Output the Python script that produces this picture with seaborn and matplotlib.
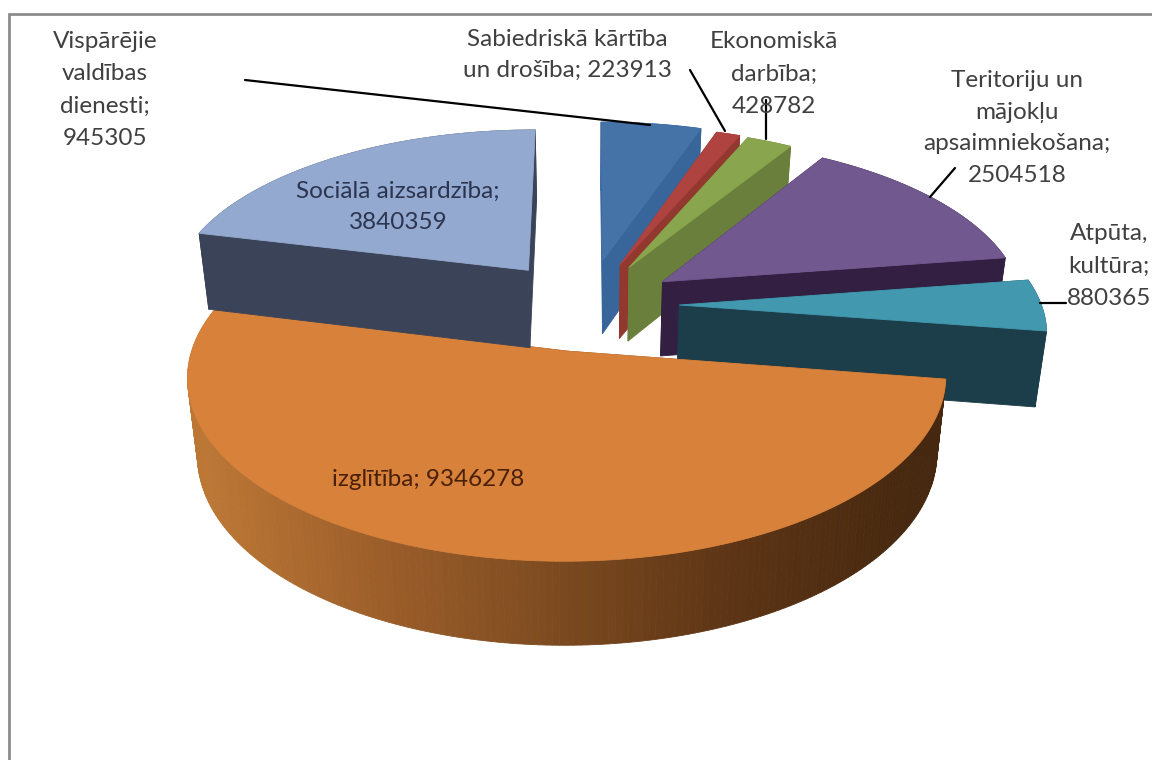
import numpy as np
import pandas as pd
import seaborn as sns
import matplotlib
matplotlib.use("Agg")
import matplotlib.pyplot as plt
from matplotlib.patches import Polygon

# ---- data ----
categories = ["Vispārējie valdības dienesti", "Sabiedriskā kārtība un drošība",
              "Ekonomiskā darbība", "Teritoriju un mājokļu apsaimniekošana",
              "Atpūta, kultūra", "izglītība", "Sociālā aizsardzība"]
values = [945305, 223913, 428782, 2504518, 880365, 9346278, 3840359]
label_texts = ["Vispārējie\nvaldības\ndienesti;\n945305",
               "Sabiedriskā kārtība\nun drošība; 223913",
               "Ekonomiskā\ndarbība;\n428782",
               "Teritoriju un\nmājokļu\napsaimniekošana;\n2504518",
               "Atpūta,\nkultūra;\n880365",
               "izglītība; 9346278",
               "Sociālā aizsardzība;\n3840359"]

# ---- style ----
top_colors = ["#4573A7", "#AE4340", "#89A54E", "#71588F", "#4198AF", "#D7813A", "#93A9CF"]
side_colors = ["#38659A", "#93382F", "#6A7F3B", "#321F42", "#1C3D4A", "#7A4A20", "#3B4358"]
label_pos = [(105, 90), (567, 55), (774, 74), (1017, 128), (1109, 266), (428, 479), (398, 207)]
label_col = ["#404040", "#404040", "#404040", "#404040", "#404040", "#4A2008", "#2B3550"]
label_spacing = [1.65, 1.55, 1.65, 1.62, 1.65, 1.0, 1.55]
leaders = [((245, 80), (650, 125)), ((690, 70), (725, 131)), ((766, 100), (766, 139)),
           ((955, 168), (930, 197)), ((1040, 303), (1066, 303))]
explode = [0.28, 0.265, 0.26, 0.255, 0.255, 0.27, 0.27]
thickness = [1, 1, 1, 1, 1, 1, 1.05]
C, D, A, B, P, H, BOTTOM_SCALE = 587, 305, 362, 168, 0.135, 75, 0.975

sns.set_theme(style="white")
plt.rcParams["font.family"] = ["Lato", "DejaVu Sans"]

df = pd.DataFrame({"category": categories, "value": values})
df["sweep"] = df["value"] / df["value"].sum() * 2 * np.pi
df["end"] = df["sweep"].cumsum()
df["start"] = df["end"] - df["sweep"]
df["mid"] = (df["start"] + df["end"]) / 2


def project(X, Y, bottom=False, k=1.0):
    X, Y = np.asarray(X, float), np.asarray(Y, float)
    w = 1 + P * Y
    sx, sy = A * X / w, -B * Y / w
    if bottom:
        return C + BOTTOM_SCALE * sx, D + BOTTOM_SCALE * sy + k * H / w
    return C + sx, D + sy


def poly(ax, xs, ys, color, z):
    pts = np.column_stack([xs, ys])
    ax.add_patch(Polygon(pts, closed=True, facecolor=color, edgecolor=color, lw=0.6, zorder=z))


fig = plt.figure(figsize=(11.52, 7.6), dpi=100)
ax = fig.add_axes([0, 0, 1, 1])
ax.set_xlim(0, 1152)
ax.set_ylim(760, 0)
ax.axis("off")

gradient = sns.blend_palette(["#BC7735", "#9C5E2A", "#7C4A20", "#5C3415", "#45280F"], 200)

for i, row in enumerate(df.itertuples()):
    z = 2 + i
    k = thickness[i]
    ang = np.linspace(row.start, row.end, 200)
    ox, oy = explode[i] * np.sin(row.mid), explode[i] * np.cos(row.mid)
    rx, ry = ox + np.sin(ang), oy + np.cos(ang)
    # radial faces
    for a in (row.start, row.end):
        ex, ey = ox + np.sin(a), oy + np.cos(a)
        x1, y1 = project([ox, ex], [oy, ey])
        x2, y2 = project([ex, ox], [ey, oy], bottom=True, k=k)
        poly(ax, np.r_[x1, x2], np.r_[y1, y2], side_colors[i], z)
    # outer wall
    tx, ty = project(rx, ry)
    bx, by = project(rx, ry, bottom=True, k=k)
    if categories[i] == "izglītība":
        for m in range(len(ang) - 1):
            t = np.clip((tx[m] - 200) / 720, 0, 1)
            col = gradient[int(t * 199)]
            poly(ax, [tx[m], tx[m + 1], bx[m + 1], bx[m]],
                 [ty[m], ty[m + 1], by[m + 1], by[m]], col, z)
    else:
        poly(ax, np.r_[tx, bx[::-1]], np.r_[ty, by[::-1]], side_colors[i], z)
    # top face
    ax0, ay0 = project([ox], [oy])
    poly(ax, np.r_[ax0, tx], np.r_[ay0, ty], top_colors[i], z + 0.5)

for (p, q) in leaders:
    ax.plot([p[0], q[0]], [p[1], q[1]], color="black", lw=1.6, zorder=20)

for txt, (x, y), col, sp in zip(label_texts, label_pos, label_col, label_spacing):
    ax.text(x, y, txt, ha="center", va="center", fontsize=17.5, color=col,
            linespacing=sp, zorder=30)

ax.plot([9, 9, 1152], [760, 14, 14], color="#8C8C8C", lw=2, zorder=40, solid_joinstyle="miter")

fig.savefig("out.png", dpi=100, facecolor="white")
